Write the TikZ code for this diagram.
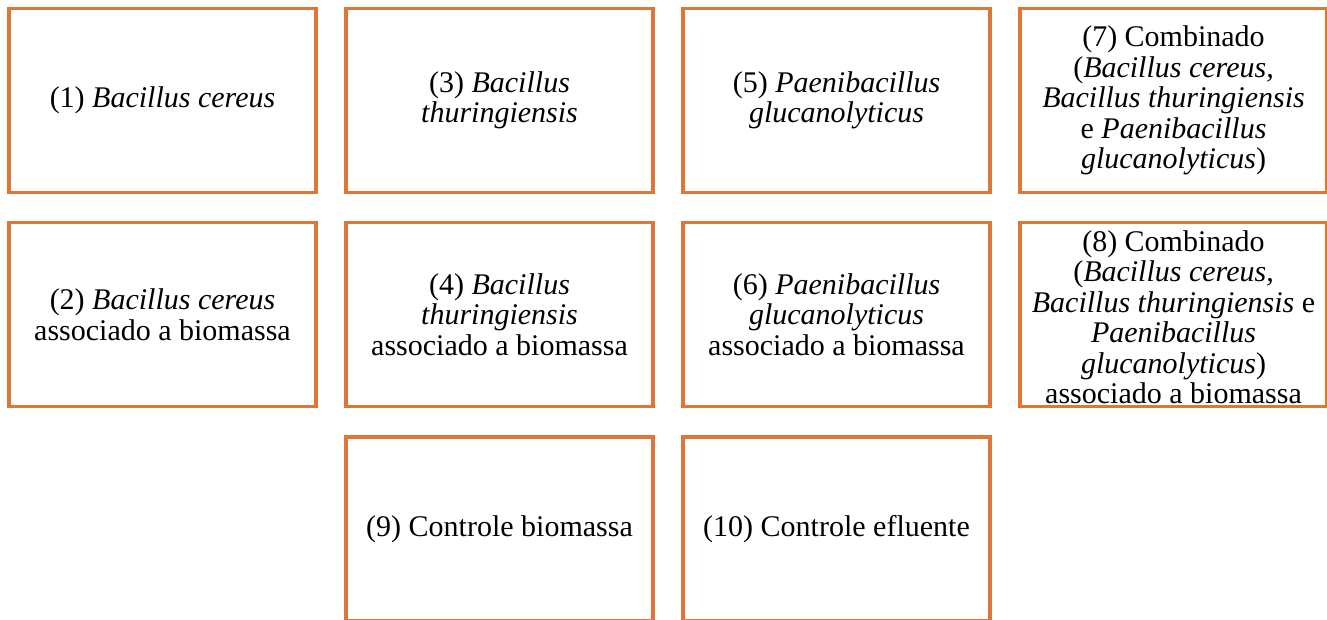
\documentclass[tikz,border=0pt]{standalone}
\usepackage{fontspec}
\setmainfont{Liberation Serif}
\usepackage{xcolor}
\definecolor{boxorange}{HTML}{DD7636}
\tikzset{
  cell/.style={draw=boxorange, line width=3.5pt, minimum width=307pt, minimum height=184pt, inner sep=0pt},
  txt/.style={align=center, inner sep=0pt, font=\fontsize{30}{30.5}\selectfont}
}

\begin{document}
\begin{tikzpicture}[x=1pt, y=-1pt]
\clip (0,0) rectangle (1327,619);
% frames
\node[cell] (c1) at (162.5,100.5) {};
\node[cell] (c3) at (499.5,100.5) {};
\node[cell] (c5) at (836.5,100.5) {};
\node[cell] (c7) at (1173.5,100.5) {};
\node[cell] (c2) at (162.5,314.5) {};
\node[cell] (c4) at (499.5,314.5) {};
\node[cell] (c6) at (836.5,314.5) {};
\node[cell] (c8) at (1173.5,314.5) {};
\node[cell] (c9) at (499.5,529) {};
\node[cell] (c10) at (836.5,529) {};
% texts
\node[txt] (t1) at (c1) {(1) \textit{Bacillus cereus}};
\node[txt] (t3) at (c3) {(3) \textit{Bacillus}\\\textit{thuringiensis}};
\node[txt] (t5) at (c5) {(5) \textit{Paenibacillus}\\\textit{glucanolyticus}};
\node[txt] (t7) at (c7) {(7) Combinado\\(\textit{Bacillus cereus,}\\\textit{Bacillus thuringiensis}\\e \textit{Paenibacillus}\\\textit{glucanolyticus})};
\node[txt] (t2) at (c2) {(2) \textit{Bacillus cereus}\\associado a biomassa};
\node[txt] (t4) at (c4) {(4) \textit{Bacillus}\\\textit{thuringiensis}\\associado a biomassa};
\node[txt] (t6) at (c6) {(6) \textit{Paenibacillus}\\\textit{glucanolyticus}\\associado a biomassa};
\node[txt] (t8) at ([yshift=-2.5pt]c8.center) {(8) Combinado\\(\textit{Bacillus cereus,}\\\textit{Bacillus thuringiensis} e\\\textit{Paenibacillus}\\\textit{glucanolyticus})\\associado a biomassa};
\node[txt] (t9) at (c9) {(9) Controle biomassa};
\node[txt] (t10) at (c10) {(10) Controle efluente};
\end{tikzpicture}
\end{document}
